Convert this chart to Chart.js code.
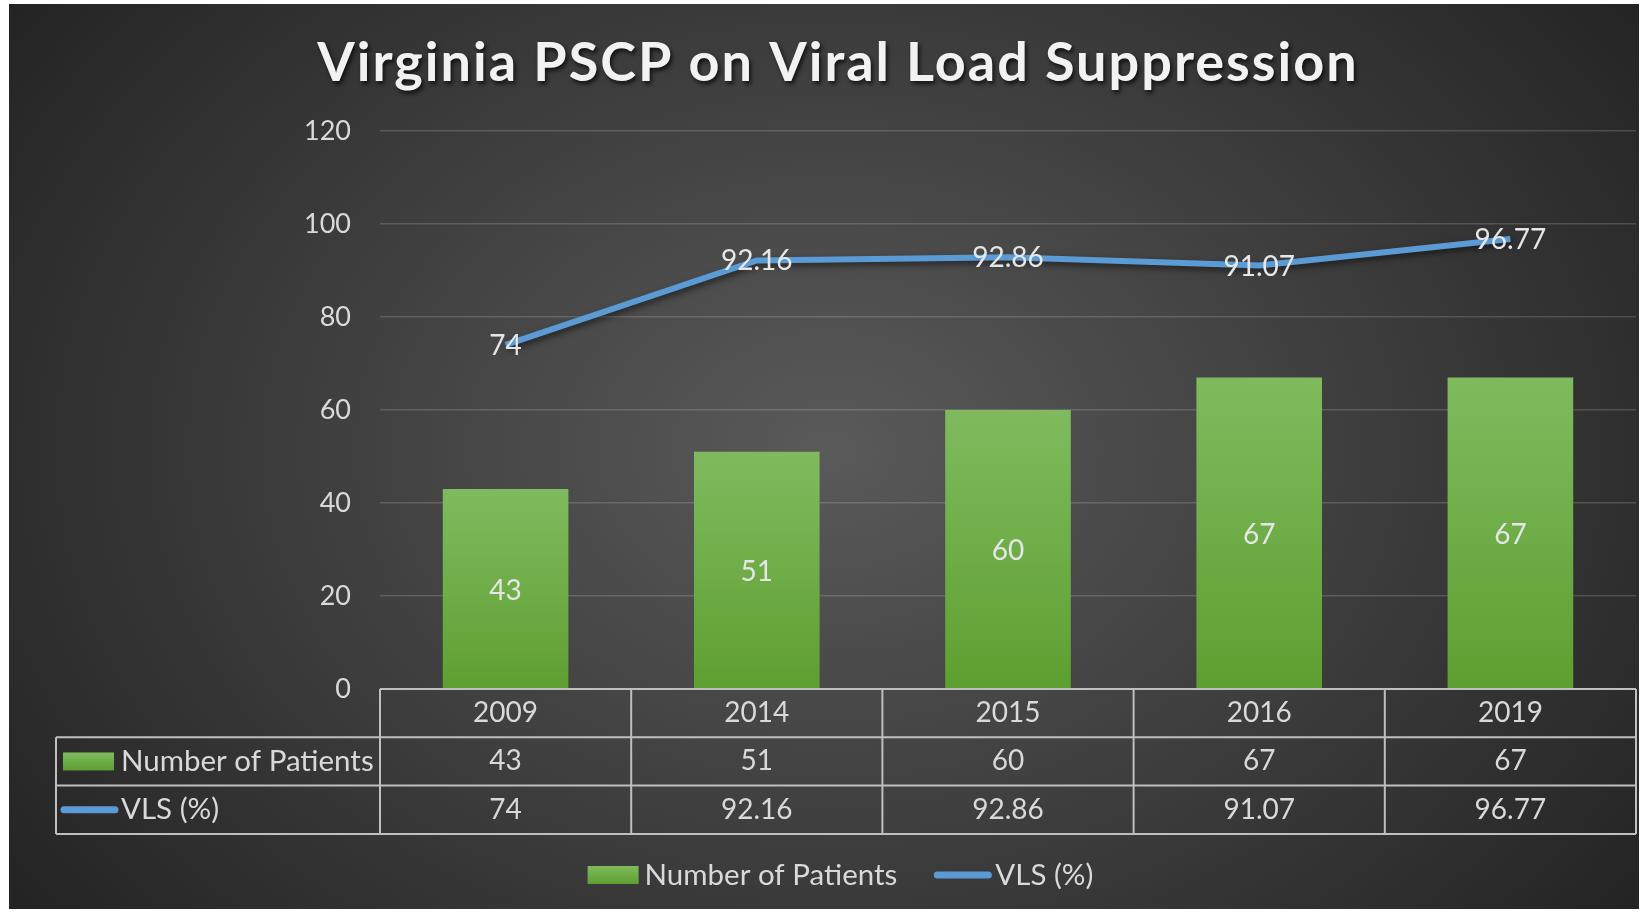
<!DOCTYPE html>
<html lang="en">
<head>
<meta charset="UTF-8">
<title>Virginia PSCP on Viral Load Suppression</title>
<script src="https://cdn.jsdelivr.net/npm/chart.js"></script>
<style>
    html, body {
        margin: 0;
        padding: 0;
        background: #fff;
    }
    #wrap {
        width: 1642px;
        height: 912px;
    }
</style>
</head>
<body>
<div id="wrap"><canvas id="vlsChart" width="1642" height="912"></canvas></div>
<script>
    const titleText = 'Virginia PSCP on Viral Load Suppression';
    const years = ['2009', '2014', '2015', '2016', '2019'];
    const patients = [43, 51, 60, 67, 67];
    const vls = [74, 92.16, 92.86, 91.07, 96.77];
    const seriesNames = ['Number of Patients', 'VLS (%)'];
    const yTicks = [0, 20, 40, 60, 80, 100, 120];

    const FONT = 'Lato, "Open Sans", sans-serif';
    const TEXT = '#d9d9d9';
    const GREEN_TOP = '#7fbb5e';
    const GREEN_BOTTOM = '#5e9f31';
    const BLUE = '#5b9bd5';

    // dark radial backdrop with thin white frame
    const backdrop = {
        id: 'backdrop',
        beforeDraw(chart) {
            const { ctx, width, height } = chart;
            ctx.save();
            ctx.fillStyle = '#fff';
            ctx.fillRect(0, 0, width, height);
            ctx.beginPath();
            ctx.rect(9, 4, 1630, 905);
            ctx.clip();
            ctx.translate(830, 450);
            ctx.scale(1, 0.75);
            const g = ctx.createRadialGradient(0, 0, 0, 0, 0, 1100);
            g.addColorStop(0, '#5a5a5a');
            g.addColorStop(1, '#1f1f1f');
            ctx.fillStyle = g;
            ctx.fillRect(-900, -700, 1800, 1400);
            ctx.restore();
        }
    };

    const lineShadow = {
        id: 'lineShadow',
        beforeDatasetDraw(chart, args) {
            if (chart.data.datasets[args.index].type !== 'line') return;
            const ctx = chart.ctx;
            ctx.save();
            ctx.shadowColor = 'rgba(0,0,0,0.55)';
            ctx.shadowBlur = 6;
            ctx.shadowOffsetX = 2;
            ctx.shadowOffsetY = 3;
        },
        afterDatasetDraw(chart, args) {
            if (chart.data.datasets[args.index].type !== 'line') return;
            chart.ctx.restore();
        }
    };

    const valueLabels = {
        id: 'valueLabels',
        afterDatasetsDraw(chart) {
            const ctx = chart.ctx;
            ctx.save();
            ctx.font = '28px ' + FONT;
            ctx.fillStyle = '#e6e6e6';
            ctx.textAlign = 'center';
            ctx.textBaseline = 'middle';
            chart.data.datasets.forEach((ds, di) => {
                const meta = chart.getDatasetMeta(di);
                meta.data.forEach((el, i) => {
                    const y = ds.type === 'line' ? el.y + 1 : (el.y + el.base) / 2 + 2;
                    ctx.fillText(String(ds.data[i]), el.x, y);
                });
            });
            ctx.restore();
        }
    };

    function seg(ctx, x1, y1, x2, y2) {
        ctx.beginPath();
        ctx.moveTo(x1, y1);
        ctx.lineTo(x2, y2);
        ctx.stroke();
    }

    function greenKey(ctx, x, cy) {
        const g = ctx.createLinearGradient(0, cy - 9, 0, cy + 9);
        g.addColorStop(0, GREEN_TOP);
        g.addColorStop(1, GREEN_BOTTOM);
        ctx.fillStyle = g;
        ctx.fillRect(x, cy - 9, 51, 18);
    }

    function blueKey(ctx, x, cy) {
        ctx.save();
        ctx.strokeStyle = BLUE;
        ctx.lineWidth = 7;
        ctx.lineCap = 'round';
        seg(ctx, x + 4, cy, x + 55, cy);
        ctx.restore();
    }

    // title, data table under the axis and bottom legend
    const extras = {
        id: 'extras',
        afterDraw(chart) {
            const { ctx, chartArea, scales: { x } } = chart;

            ctx.save();
            ctx.font = 'bold 54px ' + FONT;
            ctx.letterSpacing = '2px';
            ctx.textAlign = 'center';
            ctx.textBaseline = 'alphabetic';
            ctx.fillStyle = '#f2f2f2';
            ctx.shadowColor = 'rgba(0,0,0,0.7)';
            ctx.shadowBlur = 4;
            ctx.shadowOffsetX = 2;
            ctx.shadowOffsetY = 3;
            ctx.fillText(titleText, 838, 81);
            ctx.restore();

            const rowH = 48.3;
            const top = chartArea.bottom;
            const left = 56;
            const half = (x.getPixelForValue(1) - x.getPixelForValue(0)) / 2;
            const edges = years.map((_, i) => x.getPixelForValue(i) - half);
            edges.push(x.getPixelForValue(years.length - 1) + half);
            const right = edges[edges.length - 1];

            ctx.save();
            ctx.strokeStyle = '#bfbfbf';
            ctx.lineWidth = 2;
            seg(ctx, edges[0], top, right, top);
            for (let r = 1; r <= 3; r++) seg(ctx, left, top + r * rowH, right, top + r * rowH);
            seg(ctx, left, top + rowH, left, top + 3 * rowH);
            edges.forEach(e => seg(ctx, e, top, e, top + 3 * rowH));

            ctx.font = '28px ' + FONT;
            ctx.fillStyle = TEXT;
            ctx.textAlign = 'center';
            ctx.textBaseline = 'middle';
            years.forEach((yr, i) => {
                const cx = x.getPixelForValue(i);
                ctx.fillText(yr, cx, top + rowH * 0.5);
                ctx.fillText(String(patients[i]), cx, top + rowH * 1.5);
                ctx.fillText(String(vls[i]), cx, top + rowH * 2.5);
            });

            ctx.font = '29.5px ' + FONT;
            ctx.textAlign = 'left';
            greenKey(ctx, 63, top + rowH * 1.5);
            ctx.fillStyle = TEXT;
            ctx.fillText(seriesNames[0], 121, top + rowH * 1.5);
            blueKey(ctx, 60, top + rowH * 2.5);
            ctx.fillStyle = TEXT;
            ctx.fillText(seriesNames[1], 121, top + rowH * 2.5);

            // bottom legend
            const ly = 875;
            const w0 = ctx.measureText(seriesNames[0]).width;
            const w1 = ctx.measureText(seriesNames[1]).width;
            const total = 51 + 6 + w0 + 39 + 59 + 3 + w1;
            let lx = 842 - total / 2;
            greenKey(ctx, lx, ly);
            lx += 57;
            ctx.fillStyle = TEXT;
            ctx.fillText(seriesNames[0], lx, ly);
            lx += w0 + 39;
            blueKey(ctx, lx - 3, ly);
            lx += 59;
            ctx.fillStyle = TEXT;
            ctx.fillText(seriesNames[1], lx, ly);
            ctx.restore();
        }
    };

    new Chart(document.getElementById('vlsChart'), {
        type: 'bar',
        data: {
            labels: years,
            datasets: [
                {
                    type: 'line',
                    label: seriesNames[1],
                    data: vls,
                    borderColor: BLUE,
                    borderWidth: 6,
                    pointRadius: 0,
                    tension: 0,
                    fill: false,
                    order: 0
                },
                {
                    type: 'bar',
                    label: seriesNames[0],
                    data: patients,
                    categoryPercentage: 0.5,
                    barPercentage: 1,
                    order: 1,
                    backgroundColor: c => {
                        const { chart } = c;
                        if (!chart.chartArea || c.raw === undefined) return '#70ad47';
                        const yTop = chart.scales.y.getPixelForValue(c.raw);
                        const yBot = chart.scales.y.getPixelForValue(0);
                        const g = chart.ctx.createLinearGradient(0, yTop, 0, yBot);
                        g.addColorStop(0, GREEN_TOP);
                        g.addColorStop(1, GREEN_BOTTOM);
                        return g;
                    }
                }
            ]
        },
        options: {
            responsive: false,
            animation: false,
            events: [],
            layout: { padding: { left: 0, right: 6, top: 131, bottom: 223 } },
            plugins: {
                legend: { display: false },
                title: { display: false },
                tooltip: { enabled: false }
            },
            scales: {
                x: { display: false },
                y: {
                    min: yTicks[0],
                    max: yTicks[yTicks.length - 1],
                    afterFit: s => { s.width = 380; },
                    border: { display: false },
                    grid: {
                        color: 'rgba(255,255,255,0.16)',
                        lineWidth: 1.5,
                        drawTicks: false
                    },
                    ticks: {
                        stepSize: yTicks[1] - yTicks[0],
                        padding: 29,
                        color: TEXT,
                        font: { family: FONT, size: 27 }
                    }
                }
            }
        },
        plugins: [backdrop, lineShadow, valueLabels, extras]
    });
</script>
</body>
</html>
